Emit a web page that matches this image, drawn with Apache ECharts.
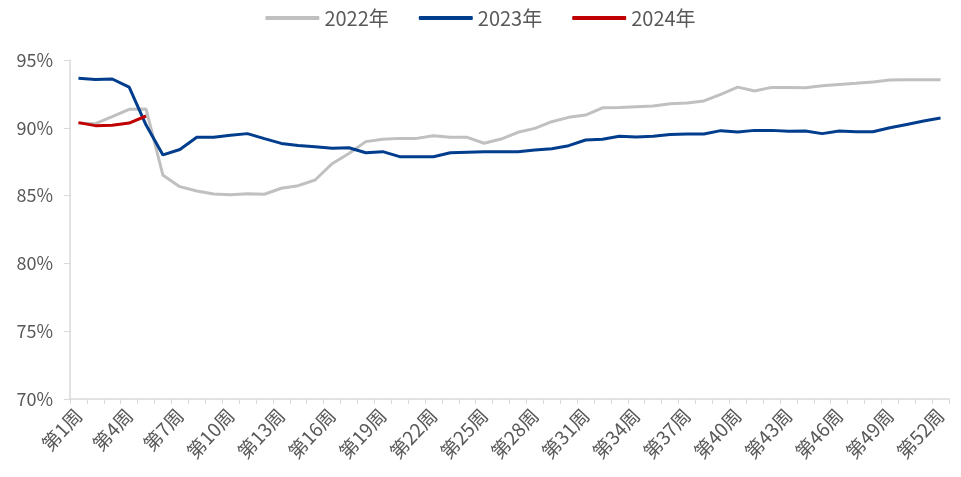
<!DOCTYPE html>
<html><head><meta charset="utf-8">
<script src="https://cdn.jsdelivr.net/npm/echarts@6/dist/echarts.min.js"></script>
<style>html,body{margin:0;padding:0;background:#fff}#c{width:961px;height:477px}</style>
</head><body><div id="c"></div>
<script>
const categories = [];
for (let i = 1; i <= 52; i++) categories.push('第' + i + '周');
const yTicks = [70, 75, 80, 85, 90, 95];
const s2022 = [90.35,90.3,90.82,91.36,91.38,86.5,85.66,85.34,85.12,85.07,85.14,85.1,85.54,85.73,86.15,87.35,88.1,88.98,89.15,89.22,89.22,89.42,89.3,89.3,88.86,89.17,89.67,89.96,90.45,90.77,90.94,91.47,91.5,91.56,91.61,91.78,91.83,91.98,92.47,93.0,92.71,92.98,92.98,92.96,93.1,93.2,93.28,93.38,93.52,93.54,93.54,93.54];
const s2023 = [93.65,93.57,93.6,93.0,90.2,88.0,88.4,89.3,89.3,89.45,89.57,89.2,88.85,88.7,88.6,88.5,88.53,88.16,88.24,87.87,87.87,87.87,88.16,88.2,88.24,88.24,88.24,88.36,88.46,88.68,89.1,89.15,89.37,89.32,89.37,89.5,89.54,89.54,89.79,89.69,89.81,89.81,89.74,89.76,89.57,89.76,89.71,89.71,90.0,90.25,90.5,90.72];
const s2024 = [90.38,90.16,90.18,90.35,90.87];
const names = ['2022年', '2023年', '2024年'];
const colors = ['#c0c0c0', '#003d8c', '#c00000'];
const txt = '#595959';
const font = '"Noto Sans CJK SC", "Noto Sans", sans-serif';
const chart = echarts.init(document.getElementById('c'));
const mk = (name, data, color, z) => ({
  name, type: 'line', data, symbol: 'none', z,
  lineStyle: { color, width: 3 }, itemStyle: { color }
});
chart.setOption({
  animation: false,
  textStyle: { fontFamily: font },
  legend: {
    top: 3, left: 'center', itemWidth: 54, itemHeight: 4, itemGap: 30, icon: 'roundRect',
    textStyle: { color: txt, fontSize: 20, fontFamily: font }
  },
  grid: { left: 70, right: 12, top: 60, bottom: 78 },
  xAxis: {
    type: 'category', data: categories, boundaryGap: true,
    axisLine: { lineStyle: { color: '#d9d9d9', width: 1.5 } },
    axisTick: { show: true, interval: 0, length: 5, lineStyle: { color: '#d9d9d9' } },
    axisLabel: { interval: 2, rotate: 47, color: txt, fontSize: 19, margin: 13, fontFamily: font },
    splitLine: { show: false }
  },
  yAxis: {
    type: 'value', min: yTicks[0], max: yTicks[yTicks.length - 1], interval: 5,
    axisLine: { show: true, lineStyle: { color: '#d9d9d9', width: 1.5 } },
    axisTick: { show: true, length: 6, lineStyle: { color: '#d9d9d9' } },
    axisLabel: { formatter: '{value}%', color: txt, fontSize: 18, margin: 17, fontFamily: font },
    splitLine: { show: false }
  },
  series: [
    mk(names[0], s2022, colors[0], 2),
    mk(names[1], s2023, colors[1], 3),
    mk(names[2], s2024, colors[2], 4)
  ]
});
</script></body></html>
